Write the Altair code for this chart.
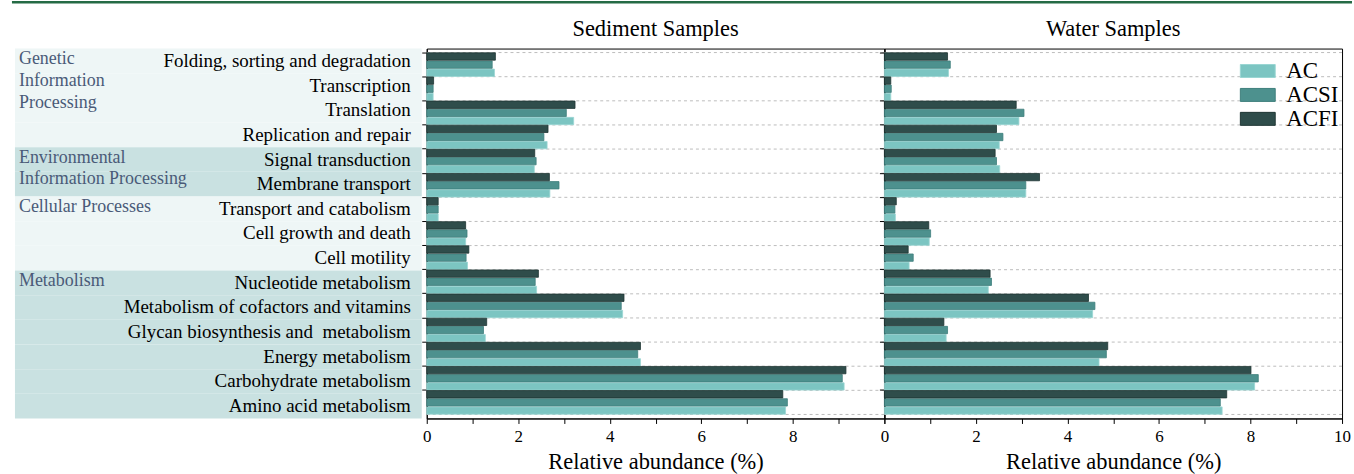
import altair as alt
import pandas as pd

categories = [
    "Folding, sorting and degradation", "Transcription", "Translation",
    "Replication and repair", "Signal transduction", "Membrane transport",
    "Transport and catabolism", "Cell growth and death", "Cell motility",
    "Nucleotide metabolism", "Metabolism of cofactors and vitamins",
    "Glycan biosynthesis and\u00a0 metabolism", "Energy metabolism",
    "Carbohydrate metabolism", "Amino acid metabolism",
]
group_names = ["Genetic Information Processing", "Environmental Information Processing",
               "Cellular Processes", "Metabolism"]
group_labels = ["Genetic\nInformation\nProcessing", "Environmental\nInformation Processing",
                "Cellular Processes", "Metabolism"]
group_first = ["Folding, sorting and degradation", "Signal transduction",
               "Transport and catabolism", "Nucleotide metabolism"]
group_of_cat = [group_names[0]] * 4 + [group_names[1]] * 2 + [group_names[2]] * 3 + [group_names[3]] * 6

series = ["AC", "ACSI", "ACFI"]

sed_AC = [1.48, 0.14, 3.21, 2.63, 2.35, 2.69, 0.25, 0.85, 0.89, 2.40, 4.28, 1.28, 4.67, 9.12, 7.84]
sed_ACSI = [1.43, 0.14, 3.05, 2.56, 2.39, 2.89, 0.25, 0.88, 0.86, 2.37, 4.25, 1.24, 4.61, 9.08, 7.88]
sed_ACFI = [1.50, 0.15, 3.24, 2.65, 2.36, 2.68, 0.25, 0.85, 0.92, 2.44, 4.31, 1.31, 4.67, 9.16, 7.78]

wat_AC = [1.40, 0.14, 2.94, 2.51, 2.52, 3.09, 0.24, 0.98, 0.54, 2.27, 4.55, 1.35, 4.69, 8.09, 7.38]
wat_ACSI = [1.44, 0.15, 3.05, 2.59, 2.45, 3.09, 0.23, 1.01, 0.63, 2.34, 4.60, 1.38, 4.85, 8.17, 7.34]
wat_ACFI = [1.38, 0.14, 2.88, 2.45, 2.42, 3.39, 0.26, 0.97, 0.52, 2.31, 4.46, 1.30, 4.88, 8.01, 7.48]

FONT = "Liberation Serif"
fills = ["#7cc5c2", "#4d918e", "#2f4d4b"]
strokes = ["#9ad6d3", "#3f7f7c", "#1f3634"]
bg_colors = ["#eef6f6", "#c9e1e1", "#eef6f6", "#c9e1e1"]

H = 371
PW = 459
LW = 413
POUT = 0.166

cat_df = pd.DataFrame({"category": categories, "group": group_of_cat})
grp_df = pd.DataFrame({"group": group_names, "label": group_labels, "first": group_first})

band_scale = alt.Scale(domain=categories, paddingInner=0, paddingOuter=POUT)

# ---------- left label panel ----------
bg = alt.Chart(cat_df).mark_rect().encode(
    y=alt.Y("category:N", scale=alt.Scale(domain=categories, paddingInner=0, paddingOuter=0), axis=None),
    x=alt.value(0), x2=alt.value(408),
    fill=alt.Fill("group:N", scale=alt.Scale(domain=group_names, range=bg_colors), legend=None),
)
cat_text = alt.Chart(cat_df).mark_text(align="right", baseline="middle", font=FONT, fontSize=19, color="#000").encode(
    y=alt.Y("category:N", scale=band_scale, axis=None),
    x=alt.value(397),
    text="category:N",
)
grp_text = alt.Chart(grp_df).mark_text(align="left", baseline="top", font=FONT, fontSize=18,
                                       color="#4a5a78", lineBreak="\n", lineHeight=22, dy=-11).encode(
    y=alt.Y("first:N", bandPosition=0, scale=band_scale, axis=None),
    x=alt.value(4),
    text="label:N",
)
top_line = alt.Chart(grp_df.head(1)).mark_rule(color="#256b45", strokeWidth=2.5).encode(
    x=alt.value(-3), x2=alt.value(1341), y=alt.value(-46.5),
)
left = alt.layer(bg, cat_text, grp_text, top_line).resolve_scale(y="independent").properties(
    width=LW, height=H, view=alt.ViewConfig(stroke=None))


def make_panel(ac, acsi, acfi, title, label_expr, show_legend):
    rows = []
    for s, vals in zip(series, [ac, acsi, acfi]):
        for c, v in zip(categories, vals):
            rows.append({"category": c, "series": s, "value": v})
    df = pd.DataFrame(rows)

    y_axis = alt.Axis(bandPosition=0, labels=False, title=None, tickSize=5, grid=False,
                      domain=True, domainColor="#000", tickColor="#000")
    x_axis = alt.Axis(values=list(range(11)), labelExpr=label_expr, title="Relative abundance (%)",
                      tickSize=5, labelPadding=5, titlePadding=6, grid=False,
                      labelFont=FONT, labelFontSize=17, titleFont=FONT, titleFontSize=22.5,
                      titleFontWeight="normal", labelColor="#000", titleColor="#000",
                      domainColor="#000", tickColor="#000", labelFlush=False)

    grid = alt.Chart(cat_df).mark_rule(strokeDash=[3, 3], color="#bdbdbd", strokeWidth=1).encode(
        y=alt.Y("category:N", bandPosition=0, scale=band_scale, axis=y_axis),
    )
    grid_last = alt.Chart(cat_df.tail(1)).mark_rule(strokeDash=[3, 3], color="#bdbdbd", strokeWidth=1).encode(
        y=alt.Y("category:N", bandPosition=1, scale=band_scale, axis=y_axis),
    )
    legend = None
    if show_legend:
        legend = alt.Legend(title=None, orient="none", legendX=363, legendY=11,
                            symbolType="M-2.69,-1H2.69V1H-2.69Z", symbolSize=169,
                            symbolStrokeWidth=1, symbolStrokeColor="#5d9895",
                            labelFont=FONT, labelFontSize=23, labelColor="#000",
                            labelOffset=17, rowPadding=0, padding=0)
    bars = alt.Chart(df).mark_bar(strokeWidth=0.8).encode(
        x=alt.X("value:Q", scale=alt.Scale(domain=[0, 10], nice=False), axis=x_axis),
        y=alt.Y("category:N", scale=band_scale, axis=y_axis),
        yOffset=alt.YOffset("series:N", scale=alt.Scale(domain=["ACFI", "ACSI", "AC"],
                                                       paddingInner=0.1, paddingOuter=0.03)),
        fill=alt.Fill("series:N", scale=alt.Scale(domain=series, range=fills), legend=legend),
        stroke=alt.Stroke("series:N", scale=alt.Scale(domain=series, range=strokes), legend=None),
    )
    return alt.layer(grid, grid_last, bars).properties(
        width=PW, height=H,
        title=alt.TitleParams(title, font=FONT, fontSize=22.5, fontWeight="normal", color="#000",
                              offset=8, anchor="middle"),
    )


sed = make_panel(sed_AC, sed_ACSI, sed_ACFI, "Sediment Samples",
                 "datum.value % 2 == 0 && datum.value < 10 ? datum.label : ''", False)
wat = make_panel(wat_AC, wat_ACSI, wat_ACFI, "Water Samples",
                 "datum.value % 2 == 0 ? datum.label : ''", True)

chart = alt.hconcat(left, sed, wat, spacing=0, bounds="flush").resolve_scale(
    fill="independent", stroke="independent"
).properties(
    padding={"left": 10, "top": 0, "right": 0, "bottom": 0},
    background="white",
).configure_view(stroke="#000", strokeWidth=1).configure_axis(
    labelFont=FONT, titleFont=FONT
).configure_title(font=FONT).configure_text(font=FONT).configure_legend(labelFont=FONT)

chart.save("out.html", embed_options={"renderer": "svg", "actions": False})
